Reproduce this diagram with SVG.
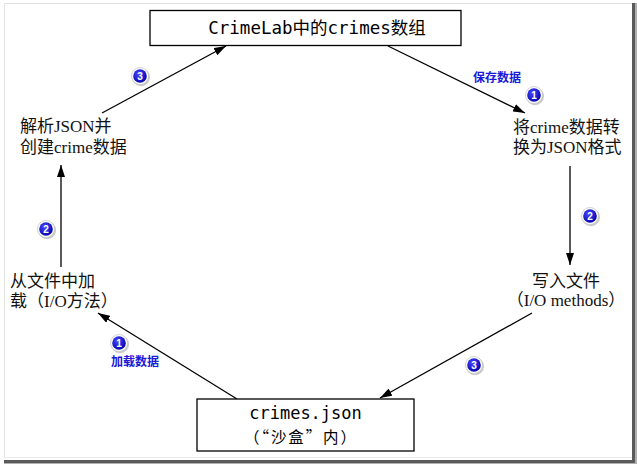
<svg xmlns="http://www.w3.org/2000/svg" width="637" height="464" viewBox="0 0 637 464">
<style>
.box{fill:#fff;stroke:#000;stroke-width:1.3}
.mono{font-family:"DejaVu Sans Mono","Noto Sans CJK SC",monospace;fill:#000}
.ser{font-family:"Liberation Serif","Noto Sans CJK SC",serif;font-size:17px;fill:#111}
.lbl{font-family:"Noto Sans CJK SC","Liberation Sans",sans-serif;font-size:12px;font-weight:bold;fill:#1a1ad8}
.num{font-family:"Liberation Sans",Arial,sans-serif;font-size:10px;font-weight:bold;fill:#fff;text-anchor:middle}
.con{stroke:#000;stroke-width:1.3;fill:none;marker-end:url(#ah)}
</style>
<defs>
<marker id="ah" viewBox="0 0 12 8" refX="12" refY="4" markerWidth="12" markerHeight="8" markerUnits="userSpaceOnUse" orient="auto">
<path d="M0,0 L12,4 L0,8 Z" fill="#000"/>
</marker>
<radialGradient id="bg" cx="0.4" cy="0.35" r="0.7">
<stop offset="0" stop-color="#4a4aff"/>
<stop offset="1" stop-color="#0000a8"/>
</radialGradient>
<g id="badge">
<circle cx="1" cy="1.2" r="9" fill="#888" opacity="0.45"/>
<circle r="8.5" fill="#fff" stroke="#c8c8c8" stroke-width="0.8"/>
<circle r="6.8" fill="url(#bg)"/>
</g>
</defs>
<rect width="637" height="464" fill="#fff"/>
<g id="frame">
<line x1="4" y1="3.5" x2="632" y2="3.5" stroke="#e2e2e2"/>
<line x1="4.5" y1="3" x2="4.5" y2="458" stroke="#e2e2e2"/>
<line x1="4" y1="457.5" x2="632" y2="457.5" stroke="#e8e8e8"/>
<rect x="632" y="3" width="3" height="460" fill="#5a5a5a"/>
<rect x="635" y="3" width="2" height="461" fill="#b0b0b0"/>
<rect x="4" y="460" width="631" height="3" fill="#5a5a5a"/>
<rect x="4" y="463" width="633" height="1" fill="#b0b0b0"/>
</g>
<g id="connectors">
<line class="con" x1="388" y1="46" x2="525" y2="113"/>
<line class="con" x1="570" y1="166" x2="570" y2="265"/>
<line class="con" x1="532" y1="313" x2="380" y2="398"/>
<line class="con" x1="237" y1="399" x2="98" y2="313"/>
<line class="con" x1="61" y1="267" x2="61" y2="165"/>
<line class="con" x1="102" y1="113" x2="226" y2="46"/>
</g>
<g id="top">
<rect class="box" x="150" y="10.5" width="311" height="35"/>
<text class="mono" x="317" y="34" font-size="17.5" text-anchor="middle">CrimeLab中的crimes数组</text>
</g>
<g id="bottom">
<rect class="box" x="197" y="399" width="217" height="52"/>
<text class="mono" x="305.5" y="419" font-size="17" text-anchor="middle">crimes.json</text>
<text x="244" y="443" font-size="15.5" textLength="112" lengthAdjust="spacing" style="font-family:'Noto Sans CJK SC',sans-serif;fill:#000">（“沙盒”内）</text>
</g>
<g id="convert">
<text class="ser" x="513" y="133">将crime数据转</text>
<text class="ser" x="513" y="153">换为JSON格式</text>
</g>
<g id="write">
<text class="ser" x="566" y="287" text-anchor="middle">写入文件</text>
<text class="ser" x="566" y="306" text-anchor="middle">（I/O methods）</text>
</g>
<g id="load">
<text class="ser" x="10" y="287">从文件中加</text>
<text class="ser" x="10" y="307">载（I/O方法）</text>
</g>
<g id="parse">
<text class="ser" x="20" y="132">解析JSON并</text>
<text class="ser" x="20" y="153">创建crime数据</text>
</g>
<g id="labels">
<text class="lbl" x="473" y="82">保存数据</text>
<text class="lbl" x="111" y="366">加载数据</text>
</g>
<g id="badges">
<use href="#badge" x="534" y="95"/><text class="num" x="534" y="98.5">1</text>
<use href="#badge" x="590" y="216"/><text class="num" x="590" y="219.5">2</text>
<use href="#badge" x="474" y="365"/><text class="num" x="474" y="368.5">3</text>
<use href="#badge" x="119" y="343"/><text class="num" x="119" y="346.5">1</text>
<use href="#badge" x="46" y="229"/><text class="num" x="46" y="232.5">2</text>
<use href="#badge" x="140" y="76"/><text class="num" x="140" y="79.5">3</text>
</g>
</svg>
